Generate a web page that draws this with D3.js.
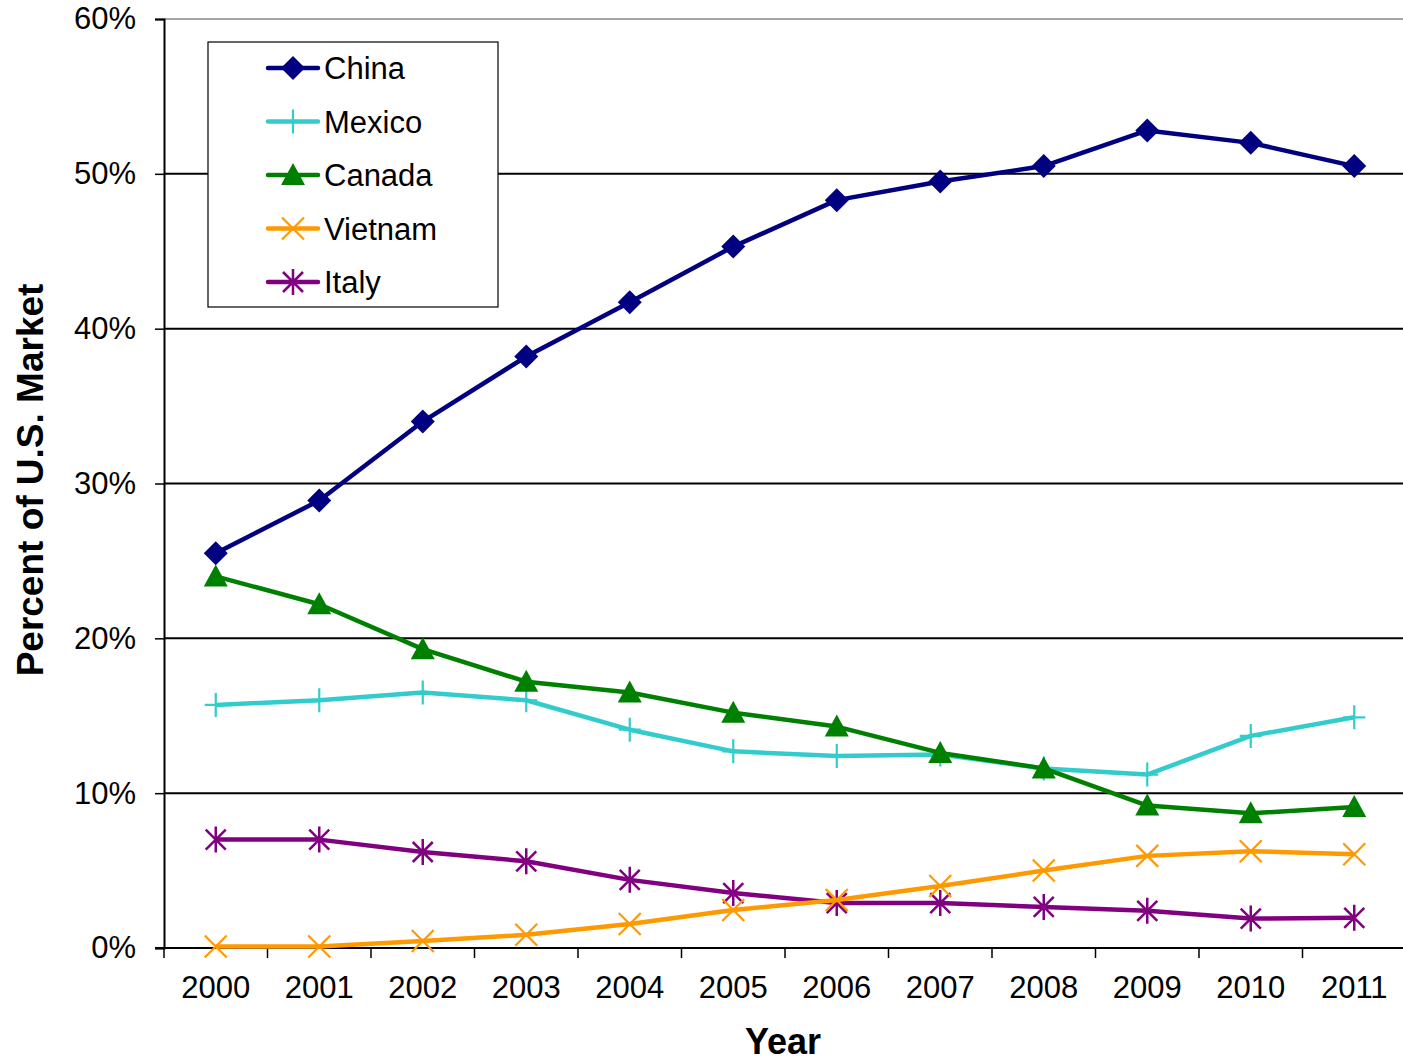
<!DOCTYPE html>
<html>
<head>
<meta charset="utf-8">
<script src="https://cdn.jsdelivr.net/npm/d3@7"></script>
<style>
  html, body { margin: 0; padding: 0; background: #fff; }
  svg { display: block; font-family: "Liberation Sans", Arial, sans-serif; }
</style>
</head>
<body>
<svg id="chart" width="1403" height="1063"></svg>
<script>
// Share of the U.S. market by supplier country, 2000–2011 (percent)
const years = ["2000","2001","2002","2003","2004","2005","2006","2007","2008","2009","2010","2011"];
const china   = [25.5, 28.9, 34.0, 38.2, 41.7, 45.3, 48.3, 49.5, 50.5, 52.8, 52.0, 50.5];
const mexico  = [15.7, 16.0, 16.5, 16.0, 14.1, 12.7, 12.4, 12.5, 11.6, 11.2, 13.7, 14.9];
const canada  = [24.0, 22.2, 19.3, 17.2, 16.5, 15.2, 14.3, 12.6, 11.6,  9.2,  8.7,  9.1];
const vietnam = [ 0.1,  0.1,  0.45, 0.85, 1.55, 2.45, 3.1,  4.0,  5.0,  5.95, 6.25, 6.05];
const italy   = [ 7.0,  7.0,  6.2,  5.6,  4.4,  3.55, 2.9,  2.9,  2.65, 2.4,  1.9,  1.95];
const yTicks  = [0, 10, 20, 30, 40, 50, 60];

const series = [
  { name: "China",   values: china,   color: "#000080", marker: "diamond" },
  { name: "Mexico",  values: mexico,  color: "#33CCCC", marker: "plus" },
  { name: "Canada",  values: canada,  color: "#008000", marker: "triangle" },
  { name: "Vietnam", values: vietnam, color: "#FF9900", marker: "cross" },
  { name: "Italy",   values: italy,   color: "#800080", marker: "star" }
];

const svg = d3.select("#chart");
const margin = { left: 164, top: 19, bottom: 948 };
const plotRight = 164 + 12 * 103.5;

const x = d3.scaleBand().domain(years).range([margin.left, plotRight]);
const y = d3.scaleLinear().domain([0, 60]).range([margin.bottom, margin.top]);
const cx = d => x(d) + x.bandwidth() / 2;

// horizontal gridlines
svg.append("g").selectAll("line")
  .data(yTicks.filter(t => t > 0))
  .join("line")
  .attr("x1", margin.left).attr("x2", plotRight)
  .attr("y1", d => y(d)).attr("y2", d => y(d))
  .attr("stroke", d => d === 60 ? "#888" : "#000")
  .attr("stroke-width", d => d === 60 ? 1.5 : 2);

// y axis
const yAxis = svg.append("g")
  .attr("transform", `translate(${margin.left},0)`)
  .call(d3.axisLeft(y).tickValues(yTicks).tickFormat(d => d + "%").tickSize(9).tickPadding(19));
yAxis.select(".domain").attr("stroke", "#000").attr("stroke-width", 2);
yAxis.selectAll(".tick line").attr("stroke", "#000").attr("stroke-width", 1.5);
yAxis.selectAll("text").attr("font-size", 31).attr("fill", "#000")
  .attr("font-family", "Liberation Sans, Arial, sans-serif");

// x axis with ticks on category boundaries
const xAxisG = svg.append("g").attr("transform", `translate(0,${margin.bottom})`);
xAxisG.append("line")
  .attr("x1", margin.left - 9).attr("x2", plotRight)
  .attr("stroke", "#000").attr("stroke-width", 2);
xAxisG.selectAll("line.tk")
  .data(d3.range(years.length + 1))
  .join("line").attr("class", "tk")
  .attr("x1", i => margin.left + i * x.bandwidth())
  .attr("x2", i => margin.left + i * x.bandwidth())
  .attr("y1", 0).attr("y2", 10)
  .attr("stroke", "#000").attr("stroke-width", 1.5);
xAxisG.selectAll("text")
  .data(years)
  .join("text")
  .attr("x", d => cx(d))
  .attr("y", 50)
  .attr("text-anchor", "middle")
  .attr("font-size", 31)
  .text(d => d);

// axis titles
svg.append("text")
  .attr("x", 783).attr("y", 1054)
  .attr("text-anchor", "middle")
  .attr("font-size", 36).attr("font-weight", "bold")
  .text("Year");
svg.append("text")
  .attr("transform", "translate(43,480) rotate(-90)")
  .attr("text-anchor", "middle")
  .attr("font-size", 37).attr("font-weight", "bold")
  .text("Percent of U.S. Market");

// marker drawing
function drawMarker(g, type, color) {
  if (type === "diamond") {
    g.append("path").attr("d", "M0,-12L12,0L0,12L-12,0Z").attr("fill", color);
  } else if (type === "triangle") {
    g.append("path").attr("d", "M0,-12L12,10L-12,10Z").attr("fill", color);
  } else if (type === "plus") {
    g.append("path").attr("d", "M-11,0H11M0,-12V12").attr("stroke", color).attr("stroke-width", 2.2).attr("fill", "none");
  } else if (type === "cross") {
    g.append("path").attr("d", "M-11,-11L11,11M-11,11L11,-11").attr("stroke", color).attr("stroke-width", 2.2).attr("fill", "none");
  } else if (type === "star") {
    g.append("path").attr("d", "M-10,-10L10,10M-10,10L10,-10M0,-13V13").attr("stroke", color).attr("stroke-width", 2.5).attr("fill", "none");
  }
}

const line = d3.line().x((d, i) => cx(years[i])).y(d => y(d));

// draw in order so China stays on top
const drawOrder = ["Italy", "Vietnam", "Mexico", "Canada", "China"];
drawOrder.forEach(name => {
  const s = series.find(d => d.name === name);
  const g = svg.append("g");
  g.append("path")
    .datum(s.values)
    .attr("d", line)
    .attr("fill", "none")
    .attr("stroke", s.color)
    .attr("stroke-width", 4.5)
    .attr("stroke-linejoin", "round");
  s.values.forEach((v, i) => {
    const mg = g.append("g").attr("transform", `translate(${cx(years[i])},${y(v)})`);
    drawMarker(mg, s.marker, s.color);
  });
});

// legend
const legend = svg.append("g");
legend.append("rect")
  .attr("x", 208).attr("y", 42).attr("width", 290).attr("height", 265)
  .attr("fill", "#fff").attr("stroke", "#000").attr("stroke-width", 1.2);
series.forEach((s, i) => {
  const ly = 68 + i * 53.5;
  const row = legend.append("g").attr("transform", `translate(0,${ly})`);
  row.append("line").attr("x1", 268).attr("x2", 318)
    .attr("stroke", s.color).attr("stroke-width", 4.5).attr("stroke-linecap", "round");
  const mg = row.append("g").attr("transform", "translate(293,0)");
  drawMarker(mg, s.marker, s.color);
  row.append("text").attr("x", 324).attr("y", 11)
    .attr("font-size", 31).text(s.name);
});
</script>
</body>
</html>
